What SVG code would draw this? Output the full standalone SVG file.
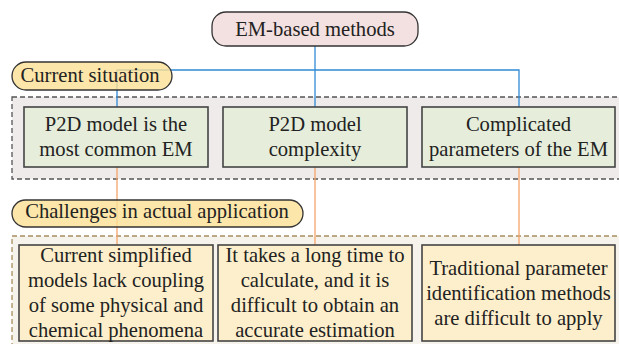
<svg xmlns="http://www.w3.org/2000/svg" width="619" height="344" viewBox="0 0 619 344">
  <style>
    text { font-size: 20.6px; fill: #222; text-anchor: middle; }
    .group-situation { fill: #efebeb; stroke: #555; stroke-width: 1.3; stroke-dasharray: 5 3; }
    .group-challenge { fill: #f6f2ec; stroke: #a89060; stroke-width: 1.3; stroke-dasharray: 5 3; }
    .root { fill: #f3e0e0; stroke: #333; stroke-width: 1.3; }
    .pill { fill: #fbe196; fill-opacity: 0.82; stroke: #333; stroke-width: 1.3; }
    .state { fill: #e6eedb; stroke: #444; stroke-width: 1.6; }
    .issue { fill: #fdefcb; stroke: #444; stroke-width: 1.6; }
    .blue { stroke: #2f8ad6; stroke-width: 1.3; fill: none; }
    .orange { stroke: #f4a46a; stroke-width: 1.3; fill: none; }
  </style>

  <!-- dashed group frames -->
  <rect class="group-situation" x="12" y="97" width="620" height="82"/>
  <rect class="group-challenge" x="12" y="236" width="620" height="120"/>

  <!-- connectors -->
  <g id="connectors">
    <path class="blue" d="M315 46 V107"/>
    <path class="blue" d="M117 107 V70 H519 V107"/>
    <path class="orange" d="M117 167 V245"/>
    <path class="orange" d="M315 167 V245"/>
    <path class="orange" d="M519 167 V245"/>
  </g>

  <g id="em-based-methods" style="font-family: 'Times New Roman'">
    <rect class="root" x="212" y="12" width="206" height="34" rx="14"/>
    <text x="315" y="36">EM-based methods</text>
  </g>

  <g id="current-situation" style="font-family: 'Times New Roman'">
    <rect class="pill" x="12" y="62" width="160" height="28" rx="14"/>
    <text x="90" y="82">Current situation</text>
  </g>

  <g id="p2d-common" style="font-family: 'Times New Roman'">
    <rect class="state" x="24" y="107" width="184" height="60"/>
    <text x="116" y="130.5">P2D model is the</text>
    <text x="116" y="156">most common EM</text>
  </g>

  <g id="p2d-complexity" style="font-family: 'Times New Roman'">
    <rect class="state" x="223" y="107" width="184" height="60"/>
    <text x="315" y="130.5">P2D model</text>
    <text x="315" y="156">complexity</text>
  </g>

  <g id="em-parameters" style="font-family: 'Times New Roman'">
    <rect class="state" x="422" y="107" width="193" height="60"/>
    <text x="518.5" y="130.5">Complicated</text>
    <text x="518.5" y="156">parameters of the EM</text>
  </g>

  <g id="challenges" style="font-family: 'Times New Roman'">
    <rect class="pill" x="12" y="200" width="291" height="27" rx="13.5"/>
    <text x="157" y="218">Challenges in actual application</text>
  </g>

  <g id="coupling-issue" style="font-family: 'Times New Roman'">
    <rect class="issue" x="19" y="245" width="194" height="96"/>
    <text x="116" y="262">Current simplified</text>
    <text x="116" y="287">models lack coupling</text>
    <text x="116" y="312">of some physical and</text>
    <text x="116" y="337">chemical phenomena</text>
  </g>

  <g id="time-issue" style="font-family: 'Times New Roman'">
    <rect class="issue" x="218" y="245" width="194" height="96"/>
    <text x="315" y="262">It takes a long time to</text>
    <text x="315" y="287">calculate, and it is</text>
    <text x="315" y="312">difficult to obtain an</text>
    <text x="315" y="337">accurate estimation</text>
  </g>

  <g id="identification-issue" style="font-family: 'Times New Roman'">
    <rect class="issue" x="422" y="245" width="193" height="96"/>
    <text x="518.5" y="275">Traditional parameter</text>
    <text x="518.5" y="300">identification methods</text>
    <text x="518.5" y="325">are difficult to apply</text>
  </g>
</svg>
